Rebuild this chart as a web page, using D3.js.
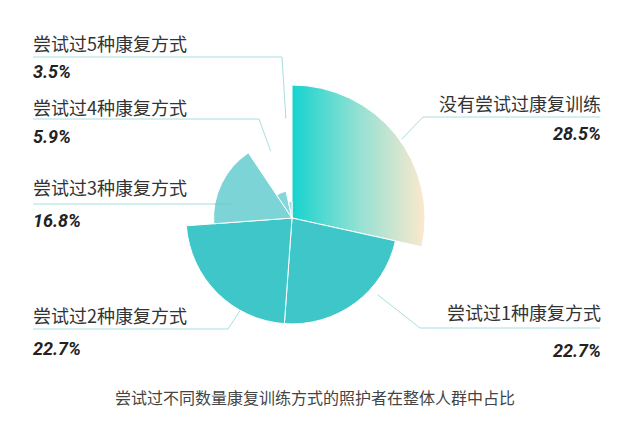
<!DOCTYPE html>
<html>
<head>
<meta charset="utf-8">
<script src="https://cdn.jsdelivr.net/npm/d3@7"></script>
<style>
  html, body { margin: 0; padding: 0; background: #fff; }
  text { font-family: "Noto Sans CJK SC", "Noto Sans", sans-serif; }
</style>
</head>
<body>
<div id="chart"></div>
<script>
const categories = ["没有尝试过康复训练", "尝试过1种康复方式", "尝试过2种康复方式", "尝试过3种康复方式", "尝试过4种康复方式", "尝试过5种康复方式"];
const shares = [28.5, 22.7, 22.7, 16.8, 5.9, 3.5];
const shareLabels = ["28.5%", "22.7%", "22.7%", "16.8%", "5.9%", "3.5%"];
const title = "尝试过不同数量康复训练方式的照护者在整体人群中占比";

// where each label sits and where its line touches the slice
// t = position inside the slice's angle, k = factor of the slice radius
const labelLayout = [
    {side: "right", textY: 111, lineY: 117, pctY: 140, elbowX: 423, t: 0.53, k: 1.015},
    {side: "right", textY: 320, lineY: 328, pctY: 357, elbowX: 420, t: 0.36, k: 1.085},
    {side: "left",  textY: 323, lineY: 329, pctY: 355, elbowX: 228, t: 0.30, k: 0.86},
    {side: "left",  textY: 195, lineY: 204, pctY: 227, elbowX: null, t: 0.28, k: 0.77},
    {side: "left",  textY: 115, lineY: 119, pctY: 143, elbowX: 259, t: 0.76, k: 2.55},
    {side: "left",  textY: 51,  lineY: 57,  pctY: 78,  elbowX: 282, t: 0.72, k: 6.1}
];
const sliceColors = ["url(#grad0)", "#3ec6c8", "#3ec6c8", "#7cd4d7", "#86d7d9", "#9fdfe0"];

const width = 641, height = 434;
const cx = 292, cy = 218;

const svg = d3.select("#chart")
    .append("svg")
    .attr("width", width)
    .attr("height", height);

const rScale = d3.scaleLinear()
    .domain([0, d3.max(shares)])
    .range([0, 133]);

// gradient across the big slice, in the pie group's own coordinates
const grad = svg.append("defs").append("linearGradient")
    .attr("id", "grad0")
    .attr("gradientUnits", "userSpaceOnUse")
    .attr("x1", 0).attr("y1", 0)
    .attr("x2", rScale.range()[1]).attr("y2", 0);
grad.append("stop").attr("offset", "0%").attr("stop-color", "#16d3cf");
grad.append("stop").attr("offset", "50%").attr("stop-color", "#93e1d3");
grad.append("stop").attr("offset", "100%").attr("stop-color", "#fde8cd");

const pie = d3.pie().sort(null).value(d => d);
const arcs = pie(shares);

const arc = d3.arc()
    .innerRadius(0)
    .outerRadius(d => rScale(d.data));

// label lines go under the slices
const lineG = svg.append("g");
const lineColor = "#a6dfe0";

const g = svg.append("g").attr("transform", `translate(${cx},${cy})`);

arcs.forEach((d, i) => {
    const L = labelLayout[i];
    const a = d.startAngle + L.t * (d.endAngle - d.startAngle);
    const r = rScale(d.data) * L.k;
    const ax = cx + r * Math.sin(a);
    const ay = cy - r * Math.cos(a);
    const outerX = L.side === "right" ? 600 : 33;
    let pts;
    if (L.elbowX === null) pts = [[outerX, L.lineY], [ax, L.lineY]];
    else pts = [[outerX, L.lineY], [L.elbowX, L.lineY], [ax, ay]];
    lineG.append("path")
        .attr("d", d3.line()(pts))
        .attr("fill", "none")
        .attr("stroke", lineColor)
        .attr("stroke-width", 1);
});

g.selectAll("path")
    .data(arcs)
    .enter().append("path")
    .attr("d", arc)
    .attr("fill", (d, i) => sliceColors[i])
    .attr("stroke", "#fff")
    .attr("stroke-width", 1);

// the line into slice 3 shows faintly over it
arcs.forEach((d, i) => {
    const L = labelLayout[i];
    if (L.elbowX !== null) return;
    const a = d.startAngle + L.t * (d.endAngle - d.startAngle);
    const r = rScale(d.data) * L.k;
    svg.append("line")
        .attr("x1", cx - rScale(d.data)).attr("x2", cx + r * Math.sin(a))
        .attr("y1", L.lineY).attr("y2", L.lineY)
        .attr("stroke", "#6cc3c6")
        .attr("stroke-width", 1)
        .attr("opacity", 0.6);
});

const labels = svg.append("g");
arcs.forEach((d, i) => {
    const L = labelLayout[i];
    const x = L.side === "right" ? 601 : 33;
    const anchor = L.side === "right" ? "end" : "start";
    labels.append("text")
        .attr("x", x)
        .attr("y", L.textY)
        .attr("text-anchor", anchor)
        .attr("font-size", 18)
        .attr("fill", "#333")
        .text(categories[i]);
    labels.append("text")
        .attr("x", x)
        .attr("y", L.pctY)
        .attr("text-anchor", anchor)
        .attr("font-size", 18)
        .attr("font-weight", "bold")
        .attr("font-style", "italic")
        .style("font-family", "Roboto, 'DejaVu Sans', sans-serif")
        .attr("fill", "#222")
        .text(shareLabels[i]);
});

svg.append("text")
    .attr("x", 315)
    .attr("y", 404)
    .attr("text-anchor", "middle")
    .attr("font-size", 16)
    .attr("fill", "#444")
    .text(title);
</script>
</body>
</html>
